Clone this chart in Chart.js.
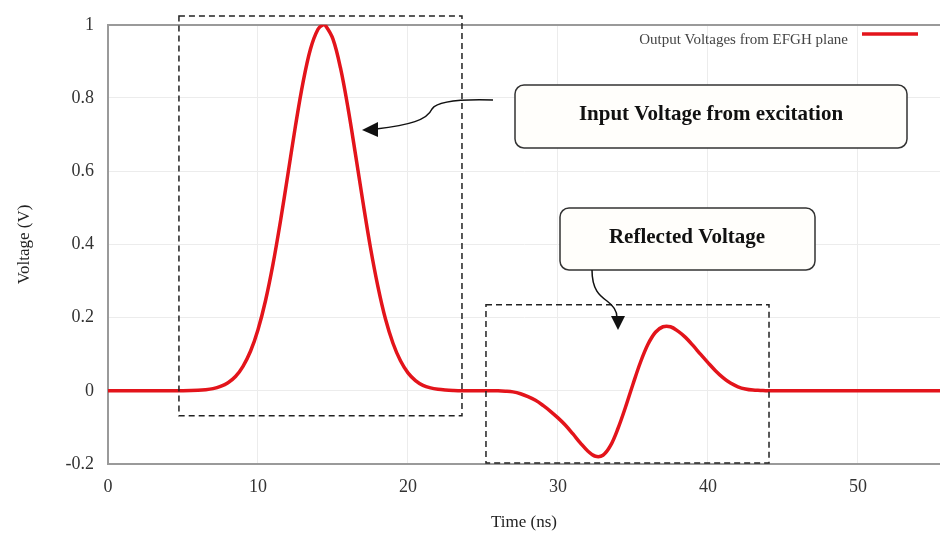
<!DOCTYPE html>
<html>
<head>
<meta charset="utf-8">
<script src="https://cdn.jsdelivr.net/npm/chart.js@4.4.1/dist/chart.umd.min.js"></script>
<style>
  html, body { margin: 0; padding: 0; background: #fff; }
  #wrap { width: 940px; height: 537px; position: relative; }
</style>
</head>
<body>
<div id="wrap"><canvas id="chart"></canvas></div>
<script>
// Time axis (ns) and voltage readings
const times = [0, 4, 5, 6, 6.5, 7, 7.5, 8, 8.5, 9, 9.5, 10, 10.5, 11, 11.5, 12, 12.5, 13, 13.5, 14, 14.35,
  14.5, 15, 15.5, 16, 16.5, 17, 17.5, 18, 18.5, 19, 19.5, 20, 20.5, 21, 21.5, 22, 22.5, 23, 24,
  26, 26.5, 27, 27.5, 28, 28.5, 29, 29.5, 30, 30.5, 31, 31.5, 32, 32.5, 33, 33.5, 34, 34.5, 35,
  35.5, 36, 36.5, 37, 37.5, 38, 38.5, 39, 39.5, 40, 40.5, 41, 41.5, 42, 42.5, 43, 43.5, 44, 50, 55.5];
const voltages = [0, 0, 0.0003, 0.0015, 0.003, 0.006, 0.012, 0.022, 0.039, 0.067, 0.108, 0.167, 0.246, 0.346, 0.464, 0.593, 0.724, 0.842, 0.934, 0.988, 1.0,
  0.998, 0.961, 0.882, 0.773, 0.646, 0.515, 0.391, 0.284, 0.196, 0.130, 0.082, 0.049, 0.028, 0.015, 0.008, 0.004, 0.002, 0.001, 0,
  0, -0.001, -0.003, -0.008, -0.016, -0.026, -0.040, -0.056, -0.074, -0.094, -0.118, -0.143, -0.165, -0.179, -0.176, -0.150, -0.103, -0.045, 0.018,
  0.078, 0.127, 0.160, 0.175, 0.175, 0.163, 0.146, 0.124, 0.100, 0.077, 0.055, 0.036, 0.021, 0.011, 0.005, 0.002, 0.001, 0, 0, 0];

const xTicks = [0, 10, 20, 30, 40, 50];
const yTicks = [-0.2, 0, 0.2, 0.4, 0.6, 0.8, 1];
const seriesLabel = 'Output Voltages from EFGH plane';
const calloutInput = 'Input Voltage from excitation';
const calloutReflected = 'Reflected Voltage';

const SERIF = "'Liberation Serif', 'DejaVu Serif', serif";
const RED = '#e3141b';

// dashed boxes, arrows and callouts drawn on top of the plot
const notesPlugin = {
  id: 'notes',
  afterDraw(chart) {
    const { ctx, scales: { x, y } } = chart;
    const px = t => x.getPixelForValue(t);
    const py = v => y.getPixelForValue(v);
    ctx.save();

    // legend (top right)
    ctx.font = '15px ' + SERIF;
    ctx.fillStyle = '#444';
    ctx.textAlign = 'right';
    ctx.textBaseline = 'middle';
    ctx.fillText(seriesLabel, 848, 40);
    ctx.strokeStyle = RED;
    ctx.lineWidth = 3.5;
    ctx.beginPath();
    ctx.moveTo(862, 34);
    ctx.lineTo(918, 34);
    ctx.stroke();

    // dashed boxes
    ctx.strokeStyle = '#222';
    ctx.lineWidth = 1.5;
    ctx.setLineDash([6, 4]);
    ctx.strokeRect(px(4.73), py(1.024), px(23.6) - px(4.73), py(-0.068) - py(1.024));
    ctx.strokeRect(px(25.2), py(0.235), px(44.07) - px(25.2), py(-0.197) - py(0.235));
    ctx.setLineDash([]);

    // callout boxes
    function callout(x0, y0, x1, y1, text, cx, cy) {
      ctx.fillStyle = '#fffefb';
      ctx.strokeStyle = '#333';
      ctx.lineWidth = 1.5;
      ctx.beginPath();
      ctx.roundRect(x0, y0, x1 - x0, y1 - y0, 9);
      ctx.fill();
      ctx.stroke();
      ctx.fillStyle = '#111';
      ctx.font = 'bold 21px ' + SERIF;
      ctx.textAlign = 'center';
      ctx.textBaseline = 'middle';
      ctx.fillText(text, cx, cy);
    }
    callout(515, 85, 907, 148, calloutInput, 711, 115);
    callout(560, 208, 815, 270, calloutReflected, 687, 238);

    // arrows
    ctx.strokeStyle = '#111';
    ctx.fillStyle = '#111';
    ctx.lineWidth = 1.5;
    ctx.beginPath();
    ctx.moveTo(493, 100);
    ctx.bezierCurveTo(460, 99, 437, 101, 432, 109);
    ctx.bezierCurveTo(427, 120, 410, 125, 376, 129);
    ctx.stroke();
    ctx.beginPath();
    ctx.moveTo(362, 130);
    ctx.lineTo(378, 122);
    ctx.lineTo(378, 137);
    ctx.closePath();
    ctx.fill();

    ctx.beginPath();
    ctx.moveTo(592, 270);
    ctx.bezierCurveTo(592, 290, 600, 296, 607, 301);
    ctx.bezierCurveTo(613, 306, 617, 310, 617, 318);
    ctx.stroke();
    ctx.beginPath();
    ctx.moveTo(618, 330);
    ctx.lineTo(611, 316);
    ctx.lineTo(625, 316);
    ctx.closePath();
    ctx.fill();

    ctx.restore();
  }
};

new Chart(document.getElementById('chart'), {
  type: 'line',
  data: {
    datasets: [{
      label: seriesLabel,
      data: times.map((t, i) => ({ x: t, y: voltages[i] })),
      borderColor: RED,
      borderWidth: 3.5,
      borderJoinStyle: 'round',
      pointRadius: 0,
      tension: 0.35,
      fill: false
    }]
  },
  options: {
    responsive: true,
    maintainAspectRatio: false,
    animation: false,
    layout: { padding: { top: 20, right: 0, left: 0, bottom: 0 } },
    plugins: { legend: { display: false }, tooltip: { enabled: false } },
    scales: {
      x: {
        type: 'linear',
        min: 0,
        max: 55.47,
        afterBuildTicks: axis => { axis.ticks = xTicks.map(v => ({ value: v })); },
        afterFit: axis => { axis.height = 73; },
        border: { color: '#9a9a9a', width: 2 },
        grid: { color: '#ececec', lineWidth: 1, tickLength: 0 },
        ticks: { color: '#333', padding: 12, maxRotation: 0, font: { family: SERIF, size: 18 } },
        title: { display: true, text: 'Time (ns)', color: '#222', padding: { top: 4 }, font: { family: SERIF, size: 17 } }
      },
      y: {
        min: -0.2,
        max: 1,
        afterBuildTicks: axis => { axis.ticks = yTicks.map(v => ({ value: v })); },
        afterFit: axis => { axis.width = 108; },
        border: { color: '#9a9a9a', width: 2 },
        grid: {
          color: ctx => ctx.tick && ctx.tick.value === 1 ? '#9a9a9a' : '#ececec',
          lineWidth: ctx => ctx.tick && ctx.tick.value === 1 ? 2 : 1,
          tickLength: 0
        },
        ticks: {
          color: '#333', padding: 14, font: { family: SERIF, size: 18 },
          callback: v => String(Math.round(v * 10) / 10)
        },
        title: { display: true, text: 'Voltage (V)', color: '#222', padding: { top: 14, bottom: 4 }, font: { family: SERIF, size: 17 } }
      }
    }
  },
  plugins: [notesPlugin]
});
</script>
</body>
</html>
